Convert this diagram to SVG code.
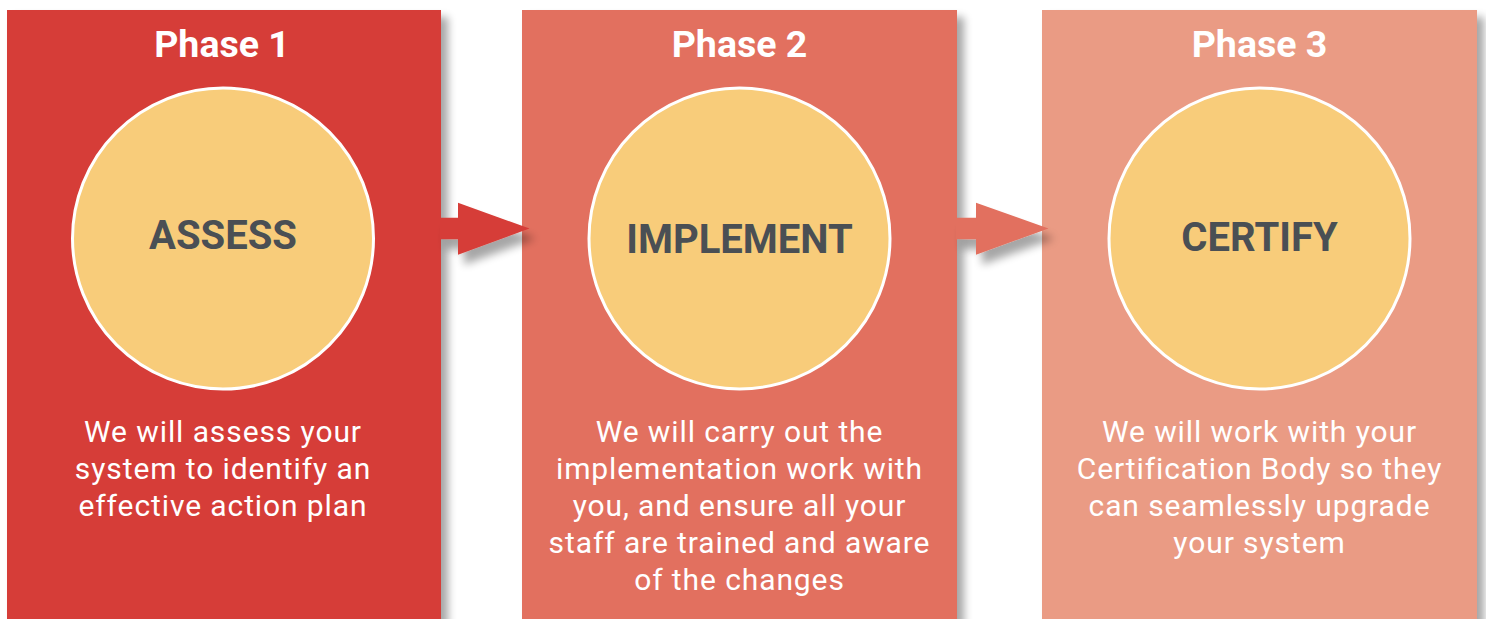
<svg xmlns="http://www.w3.org/2000/svg" width="1486" height="619" viewBox="0 0 1486 619">
<defs>
<filter id="sh" x="-20%" y="-20%" width="150%" height="150%">
<feGaussianBlur in="SourceAlpha" stdDeviation="4"/>
<feOffset dx="7" dy="7" result="b"/>
<feComponentTransfer><feFuncA type="linear" slope="0.35"/></feComponentTransfer>
<feMerge><feMergeNode/><feMergeNode in="SourceGraphic"/></feMerge>
</filter>
<filter id="ash" x="-30%" y="-30%" width="160%" height="180%">
<feGaussianBlur in="SourceAlpha" stdDeviation="4"/>
<feOffset dx="6" dy="10" result="b"/>
<feComponentTransfer><feFuncA type="linear" slope="0.35"/></feComponentTransfer>
<feMerge><feMergeNode/><feMergeNode in="SourceGraphic"/></feMerge>
</filter>
</defs>
<style>
.title{font-family:Roboto,"Liberation Sans",sans-serif;font-weight:bold;font-size:37.5px;fill:#ffffff;text-anchor:middle}
.label{font-family:Roboto,"Liberation Sans",sans-serif;font-weight:bold;font-size:40px;fill:#4a4f54;text-anchor:middle}
.body{font-family:Roboto,"Liberation Sans",sans-serif;font-size:30px;letter-spacing:0.9px;fill:#ffffff;text-anchor:middle}
.circ{fill:#f8cc7a;stroke:#ffffff;stroke-width:3}
</style>
<rect width="1486" height="619" fill="#ffffff"/>
<g id="phase1">
<rect x="7" y="10" width="434" height="620" fill="#d63d37" filter="url(#sh)"/>
<text class="title" x="222" y="57">Phase 1</text>
<circle class="circ" cx="223" cy="238.5" r="150.5"/>
<text class="label" x="223" y="249">ASSESS</text>
<text class="body" x="223" y="442">We will assess your</text>
<text class="body" x="223" y="479">system to identify an</text>
<text class="body" x="223" y="516">effective action plan</text>
</g>
<g id="phase2">
<rect x="522" y="10" width="435" height="620" fill="#e2705e" filter="url(#sh)"/>
<text class="title" x="739.5" y="57">Phase 2</text>
<circle class="circ" cx="739.5" cy="238.5" r="150.5"/>
<text class="label" x="739.5" y="253">IMPLEMENT</text>
<text class="body" x="739.5" y="442">We will carry out the</text>
<text class="body" x="739.5" y="479">implementation work with</text>
<text class="body" x="739.5" y="516">you, and ensure all your</text>
<text class="body" x="739.5" y="553">staff are trained and aware</text>
<text class="body" x="739.5" y="590">of the changes</text>
</g>
<g id="phase3">
<rect x="1042" y="10" width="435" height="620" fill="#ea9b84" filter="url(#sh)"/>
<text class="title" x="1259.5" y="57">Phase 3</text>
<circle class="circ" cx="1259.5" cy="238.5" r="150.5"/>
<text class="label" x="1259.5" y="251">CERTIFY</text>
<text class="body" x="1259.5" y="442">We will work with your</text>
<text class="body" x="1259.5" y="479">Certification Body so they</text>
<text class="body" x="1259.5" y="516">can seamlessly upgrade</text>
<text class="body" x="1259.5" y="553">your system</text>
</g>
<g id="connectors">
<path d="M440 217.7 H458 V202.7 L529.5 228.5 L458 254.7 V239.3 H440 Z" fill="#d63d37" filter="url(#ash)"/>
<path d="M956 217.7 H976 V202.7 L1048.5 228.5 L976 254.7 V239.3 H956 Z" fill="#e2705e" filter="url(#ash)"/>
</g>
</svg>
